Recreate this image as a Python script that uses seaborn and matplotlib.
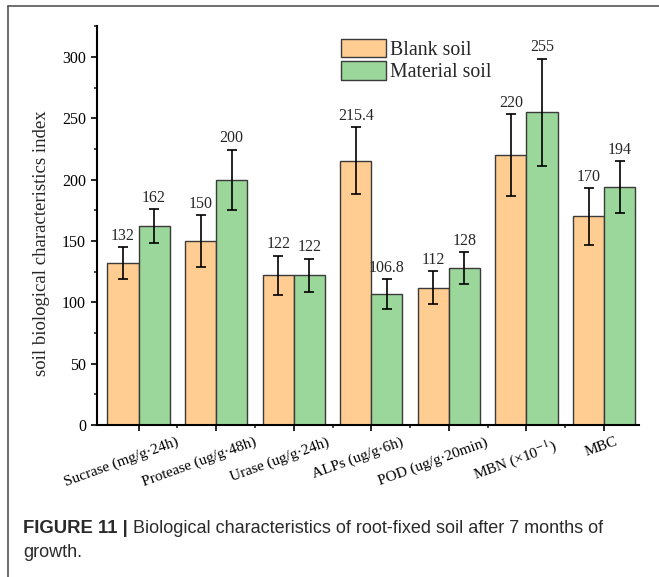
import matplotlib
matplotlib.use("Agg")
import matplotlib.pyplot as plt
import matplotlib.transforms as mtransforms
from matplotlib.ticker import MultipleLocator, FixedLocator
import seaborn as sns
import pandas as pd
import numpy as np

categories = ["Sucrase (mg/g·24h)", "Protease (ug/g·48h)", "Urase (ug/g·24h)",
              "ALPs (ug/g·6h)", "POD (ug/g·20min)", "MBN (×10$^{-1}$)", "MBC"]
blank_vals = [132, 150, 122, 215.4, 112, 220, 170]
material_vals = [162, 200, 122, 106.8, 128, 255, 194]
blank_err = [13, 21, 16, 27.5, 13.5, 33.5, 23]
material_err = [14, 24.5, 13.5, 12, 13, 43.5, 21]
blank_labels = ["132", "150", "122", "215.4", "112", "220", "170"]
material_labels = ["162", "200", "122", "106.8", "128", "255", "194"]
series = ["Blank soil", "Material soil"]
colors = ["#FFCC91", "#9BD69B"]

sns.set_style("ticks")
plt.rcParams['font.family'] = ['Liberation Serif', 'DejaVu Serif']
plt.rcParams['mathtext.fontset'] = 'stix'

df = pd.DataFrame({
    "category": categories * 2,
    "value": blank_vals + material_vals,
    "series": [series[0]] * len(categories) + [series[1]] * len(categories),
})

W, H = 659, 577
fig = plt.figure(figsize=(W / 100, H / 100), dpi=100)
ax = fig.add_axes([97 / W, (H - 425) / H, (639 - 97) / W, (425 - 26.3) / H])

sns.barplot(data=df, x="category", y="value", hue="series", palette=colors,
            order=categories, hue_order=series, errorbar=None, width=0.8,
            edgecolor="#3a3a3a", linewidth=1.0, saturation=1, ax=ax)

errs = [blank_err, material_err]
labs = [blank_labels, material_labels]
vals = [blank_vals, material_vals]
bar_conts = list(ax.containers)
for ci, cont in enumerate(bar_conts):
    xs = [p.get_x() + p.get_width() / 2 for p in cont.patches]
    ax.errorbar(xs, vals[ci], yerr=errs[ci], fmt="none", ecolor="black",
                elinewidth=1.2, capsize=3.5, capthick=1.2, zorder=5)
    for x, v, e, t in zip(xs, vals[ci], errs[ci], labs[ci]):
        ax.annotate(t, (x, v + e), xytext=(0, 2.5), textcoords="offset points",
                    ha="center", va="bottom", fontsize=11.5)

ax.set_ylim(0, 325)
ax.set_xlim(-0.535, 6.45)
ax.yaxis.set_major_locator(MultipleLocator(50))
ax.yaxis.set_minor_locator(MultipleLocator(25))
ax.xaxis.set_minor_locator(FixedLocator(np.arange(0.5, 6.6, 1.0)))
ax.tick_params(axis="both", which="major", direction="out", length=4.5, width=1.2,
               labelsize=11.5, colors="black", pad=3.5)
ax.tick_params(axis="both", which="minor", direction="out", length=2.5, width=1.2)
ax.tick_params(axis="x", which="major", labelsize=11, pad=3)
for lab in ax.get_xticklabels():
    lab.set_rotation(20)
    lab.set_ha("center")
ax.set_xlabel("")
ax.set_ylabel("soil biological characteristics index", fontsize=13.5)
ax.yaxis.set_label_coords(-0.086, (425 - 243.4) / 398.7)
for s in ["top", "right"]:
    ax.spines[s].set_visible(False)
for s in ["left", "bottom"]:
    ax.spines[s].set_linewidth(1.5)
    ax.spines[s].set_color("black")

leg = ax.legend(loc="upper left", bbox_to_anchor=((341 - 97) / 542, (425 - 39) / 398.7),
                frameon=False, fontsize=14.3, handlelength=2.25, handleheight=1.05,
                handletextpad=0.24, labelspacing=0.07, borderpad=0, borderaxespad=0)
for h in leg.legend_handles:
    h.set_edgecolor("#3a3a3a")

# figure frame
fig.add_artist(plt.Line2D([8 / W, 8 / W], [0, 1 - 6 / H], color="#555555", lw=1.2,
                          transform=fig.transFigure))
fig.add_artist(plt.Line2D([8 / W, 1], [1 - 6 / H, 1 - 6 / H], color="#555555", lw=1.2,
                          transform=fig.transFigure))

cap_font = ['Liberation Sans', 'DejaVu Sans']
t1 = fig.text(23 / W, 1 - 533 / H, "FIGURE 11 |", fontsize=13.3, fontweight="bold",
              family=cap_font, color="#2a2a2a", va="baseline")
fig.canvas.draw()

# shift rotated x tick labels the way the original places them
for lab in ax.get_xticklabels():
    w = lab.get_window_extent().width
    dx = (-0.17 * w + 3) / 100.0
    lab.set_transform(lab.get_transform() +
                      mtransforms.ScaledTranslation(dx, 0, fig.dpi_scale_trans))

bb = t1.get_window_extent()
fig.text((bb.x1 + 5) / W, 1 - 533 / H,
         "Biological characteristics of root-fixed soil after 7 months of",
         fontsize=13.0, family=cap_font, color="#2a2a2a", va="baseline")
fig.text(23 / W, 1 - 557 / H, "growth.", fontsize=13.0, family=cap_font,
         color="#2a2a2a", va="baseline")

fig.savefig("out.png", dpi=100)
